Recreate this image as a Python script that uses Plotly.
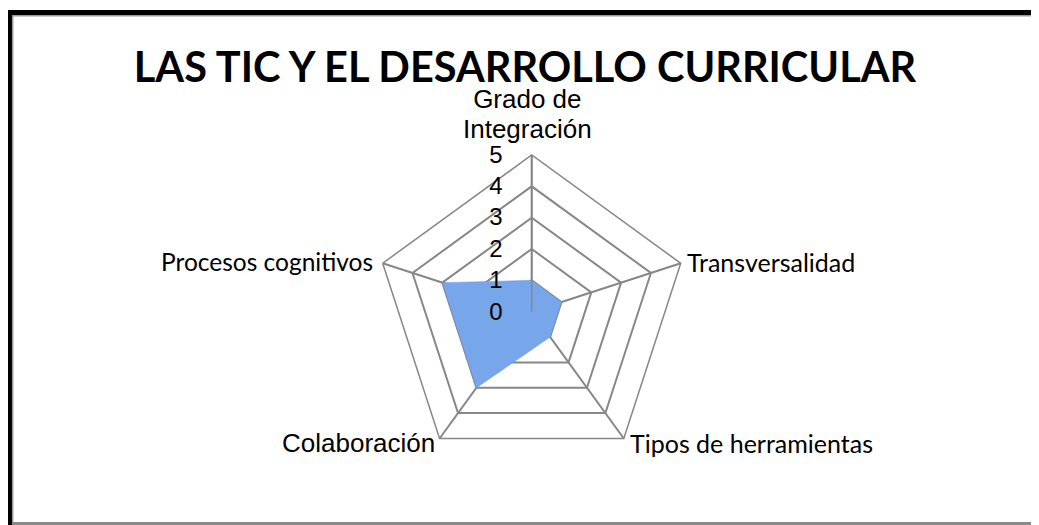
import plotly.graph_objects as go

# page body has an 8px margin, so the figure is shifted by 8px
OFF = 8
W, H = 1039 - OFF, 525 - OFF

categories = ["Grado de<br>Integración", "Transversalidad", "Tipos de herramientas",
              "Colaboración", "Procesos cognitivos"]
values = [1, 1, 1, 3, 3]
radial_ticks = [0, 1, 2, 3, 4, 5]

arial = "Liberation Sans, Arial, sans-serif"
calibri = "Lato, Carlito, Calibri, sans-serif"


def px(x):
    return (x - OFF) / W


def py(y):
    return 1 - (y - OFF) / H


fig = go.Figure(
    go.Scatterpolar(
        r=values + values[:1],
        theta=categories + categories[:1],
        mode="lines",
        fill="toself",
        fillcolor="#78a6ea",
        line=dict(color="#6c9be0", width=0.5),
        hoverinfo="r+theta",
    )
)

# center ~ (531.7, 311.7), outer radius ~156.7 px (screen coords)
cx, cy, rad = 531.7, 311.7, 156.7
grid = "#878787"

fig.update_layout(
    width=W, height=H,
    margin=dict(l=0, r=0, t=0, b=0),
    paper_bgcolor="white",
    showlegend=False,
    title=dict(
        text="<b>LAS TIC Y EL DESARROLLO CURRICULAR</b>",
        x=px(525), xanchor="center", y=py(67), yanchor="middle",
        font=dict(family=calibri, size=41.5, color="black"),
    ),
    polar=dict(
        domain=dict(x=[px(cx - rad), px(cx + rad)], y=[py(cy + rad), py(cy - rad)]),
        bgcolor="white",
        gridshape="linear",
        angularaxis=dict(
            direction="clockwise", rotation=90,
            tickvals=categories, showticklabels=False,
            showline=True, linecolor=grid, linewidth=1.5,
            gridcolor=grid, gridwidth=1.5, ticks="",
        ),
        radialaxis=dict(
            range=[0, 5], tickvals=radial_ticks, angle=90, side="counterclockwise",
            showline=True, linecolor=grid, linewidth=1.5,
            gridcolor=grid, gridwidth=1.5,
            ticks="outside", ticklen=20, tickcolor="rgba(0,0,0,0)",
            tickfont=dict(family=arial, size=24, color="black"),
            tickangle=90,
        ),
    ),
)

# category labels around the web (placed like the original's labels)
label_pos = [
    dict(x=527, y=146, xanchor="center", yanchor="bottom", family=arial, size=26, base=23),
    dict(x=685, y=262, xanchor="left", yanchor="middle", family=calibri, size=25, base=25),
    dict(x=628, y=443, xanchor="left", yanchor="middle", family=calibri, size=25, base=25),
    dict(x=437, y=443, xanchor="right", yanchor="middle", family=arial, size=26, base=26),
    dict(x=375, y=262, xanchor="right", yanchor="middle", family=calibri, size=24.5, base=24.5),
]
for cat, p in zip(categories, label_pos):
    fig.add_annotation(
        xref="paper", yref="paper", x=px(p["x"]), y=py(p["y"]),
        xanchor=p["xanchor"], yanchor=p["yanchor"], showarrow=False,
        text=f"<span style='font-size:{p['size']}px'>{cat}</span>",
        font=dict(family=p["family"], size=p["base"], color="black"),
    )

# outer frame of the chart area
fig.add_shape(type="line", xref="paper", yref="paper",
              x0=px(9.5), x1=px(9.5), y0=py(10), y1=py(525), line=dict(color="black", width=5))
fig.add_shape(type="line", xref="paper", yref="paper",
              x0=px(7), x1=px(1039), y0=py(12.5), y1=py(12.5), line=dict(color="black", width=5))
fig.add_shape(type="line", xref="paper", yref="paper",
              x0=px(12.7), x1=px(12.7), y0=py(15), y1=py(522), line=dict(color="#9a9a9a", width=1.5))
fig.add_shape(type="line", xref="paper", yref="paper",
              x0=px(12), x1=px(1039), y0=py(15.7), y1=py(15.7), line=dict(color="#9a9a9a", width=1.5))
fig.add_shape(type="line", xref="paper", yref="paper",
              x0=px(12), x1=px(1039), y0=py(523.5), y1=py(523.5), line=dict(color="#8a8a8a", width=3))

fig.write_html("out.html")
